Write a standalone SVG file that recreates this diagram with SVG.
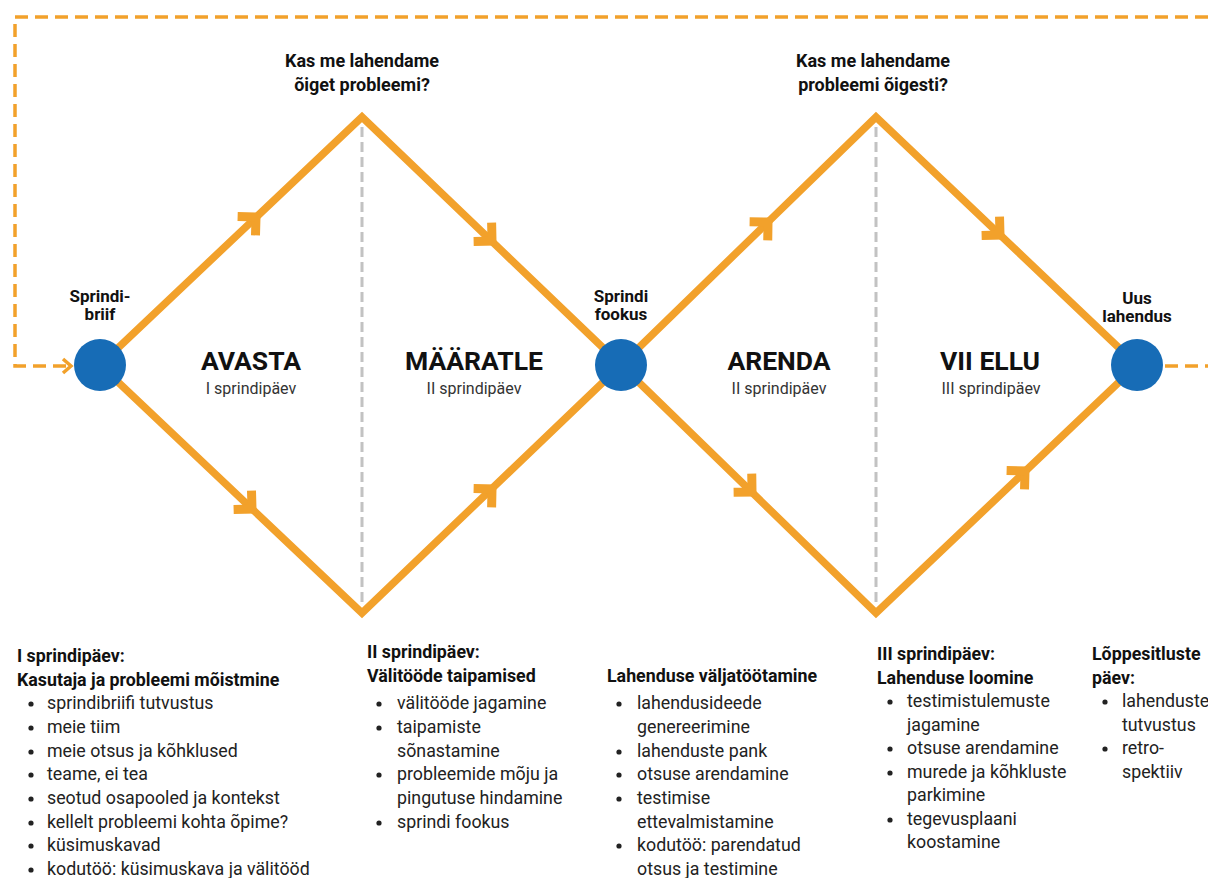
<svg xmlns="http://www.w3.org/2000/svg" xmlns:xlink="http://www.w3.org/1999/xlink" width="1208" height="878" viewBox="0 0 1208 878">
  <style>
    text { font-family: Roboto, "Liberation Sans", Arial, sans-serif; }
    .path { fill: none; stroke: #F2A12B; stroke-width: 7.5; stroke-linejoin: miter; }
    .chev { fill: none; stroke: #F2A12B; stroke-width: 9; stroke-linejoin: miter; stroke-linecap: butt; }
    .loop { fill: none; stroke: #F2A12B; stroke-width: 3.5; stroke-dasharray: 13 7; }
    .divider { fill: none; stroke: #C2C2C2; stroke-width: 3; stroke-dasharray: 10 5; }
    .node { fill: #176CB6; }
    .nlabel { font-size: 17px; font-weight: 700; fill: #111; text-anchor: middle; }
    .question { font-size: 18px; font-weight: 700; fill: #111; text-anchor: middle; }
    .phase { font-size: 26.5px; font-weight: 700; fill: #111; text-anchor: middle; }
    .day { font-size: 16px; fill: #333; text-anchor: middle; }
    .head { font-size: 17.8px; font-weight: 700; fill: #111; }
    .item { font-size: 17.8px; fill: #222; }
    .dot { fill: #222; }
  </style>
  <defs>
    <path id="chev" class="chev" d="M-13,-13 L0,0 L-13,13"/>
  </defs>

  <!-- feedback loop and phase dividers -->
  <g id="connectors">
    <path class="loop" d="M1208,17 H15 V366 H70"/>
    <path d="M63,359 L71,366 L63,373" fill="none" stroke="#F2A12B" stroke-width="3.5"/>
    <path class="loop" d="M1165,366 H1208"/>

    <line class="divider" x1="362" y1="127" x2="362" y2="604"/>
    <line class="divider" x1="876" y1="127" x2="876" y2="604"/>

    <!-- double diamond -->
    <path class="path" d="M100,365 L362,117 L621,365 L876,117 L1137,365"/>
    <path class="path" d="M100,365 L362,613 L621,365 L876,613 L1137,365"/>

    <!-- direction chevrons -->
    <use xlink:href="#chev" transform="translate(256,217) rotate(-43.4)"/>
    <use xlink:href="#chev" transform="translate(492,241) rotate(43.8)"/>
    <use xlink:href="#chev" transform="translate(252,509) rotate(43.4)"/>
    <use xlink:href="#chev" transform="translate(492,489) rotate(-43.8)"/>
    <use xlink:href="#chev" transform="translate(768,222) rotate(-44.2)"/>
    <use xlink:href="#chev" transform="translate(1000,235) rotate(43.5)"/>
    <use xlink:href="#chev" transform="translate(752,492) rotate(44.2)"/>
    <use xlink:href="#chev" transform="translate(1025,471) rotate(-43.5)"/>
  </g>

  <!-- milestones -->
  <g id="node-briif">
    <circle class="node" cx="100" cy="365" r="26"/>
    <text class="nlabel" x="100" y="302">Sprindi-</text>
    <text class="nlabel" x="100" y="320">briif</text>
  </g>
  <g id="node-fookus">
    <circle class="node" cx="621" cy="365" r="26"/>
    <text class="nlabel" x="621" y="302">Sprindi</text>
    <text class="nlabel" x="621" y="320">fookus</text>
  </g>
  <g id="node-lahendus">
    <circle class="node" cx="1137" cy="365" r="26"/>
    <text class="nlabel" x="1137" y="304">Uus</text>
    <text class="nlabel" x="1137" y="322">lahendus</text>
  </g>

  <!-- guiding questions -->
  <g id="question-1">
    <text class="question" x="362" y="67">Kas me lahendame</text>
    <text class="question" x="362" y="91">õiget probleemi?</text>
  </g>
  <g id="question-2">
    <text class="question" x="873" y="67">Kas me lahendame</text>
    <text class="question" x="873" y="91">probleemi õigesti?</text>
  </g>

  <!-- phases -->
  <g id="phase-avasta">
    <text class="phase" x="251" y="370">AVASTA</text>
    <text class="day" x="251" y="394">I sprindipäev</text>
  </g>
  <g id="phase-maaratle">
    <text class="phase" x="474" y="370">MÄÄRATLE</text>
    <text class="day" x="474" y="394">II sprindipäev</text>
  </g>
  <g id="phase-arenda">
    <text class="phase" x="779" y="370">ARENDA</text>
    <text class="day" x="779" y="394">II sprindipäev</text>
  </g>
  <g id="phase-vii-ellu">
    <text class="phase" x="990" y="370">VII ELLU</text>
    <text class="day" x="991" y="394">III sprindipäev</text>
  </g>

  <!-- day agendas -->
  <g id="agenda-day1">
    <text class="head" x="17" y="662">I sprindipäev:</text>
    <text class="head" x="17" y="686">Kasutaja ja probleemi mõistmine</text>
    <circle class="dot" cx="31" cy="704" r="2.6"/><text class="item" x="47" y="709">sprindibriifi tutvustus</text>
    <circle class="dot" cx="31" cy="728" r="2.6"/><text class="item" x="47" y="733">meie tiim</text>
    <circle class="dot" cx="31" cy="752" r="2.6"/><text class="item" x="47" y="757">meie otsus ja kõhklused</text>
    <circle class="dot" cx="31" cy="775" r="2.6"/><text class="item" x="47" y="780">teame, ei tea</text>
    <circle class="dot" cx="31" cy="799" r="2.6"/><text class="item" x="47" y="804">seotud osapooled ja kontekst</text>
    <circle class="dot" cx="31" cy="823" r="2.6"/><text class="item" x="47" y="828">kellelt probleemi kohta õpime?</text>
    <circle class="dot" cx="31" cy="846" r="2.6"/><text class="item" x="47" y="851">küsimuskavad</text>
    <circle class="dot" cx="31" cy="870" r="2.6"/><text class="item" x="47" y="875">kodutöö: küsimuskava ja välitööd</text>
  </g>

  <g id="agenda-day2">
    <text class="head" x="367" y="658">II sprindipäev:</text>
    <text class="head" x="367" y="682">Välitööde taipamised</text>
    <circle class="dot" cx="379" cy="704" r="2.6"/><text class="item" x="397" y="709">välitööde jagamine</text>
    <circle class="dot" cx="379" cy="728" r="2.6"/><text class="item" x="397" y="733">taipamiste</text>
    <text class="item" x="397" y="757">sõnastamine</text>
    <circle class="dot" cx="379" cy="775" r="2.6"/><text class="item" x="397" y="780">probleemide mõju ja</text>
    <text class="item" x="397" y="804">pingutuse hindamine</text>
    <circle class="dot" cx="379" cy="823" r="2.6"/><text class="item" x="397" y="828">sprindi fookus</text>
  </g>

  <g id="agenda-solution">
    <text class="head" x="607" y="682">Lahenduse väljatöötamine</text>
    <circle class="dot" cx="619" cy="704" r="2.6"/><text class="item" x="637" y="709">lahendusideede</text>
    <text class="item" x="637" y="733">genereerimine</text>
    <circle class="dot" cx="619" cy="752" r="2.6"/><text class="item" x="637" y="757">lahenduste pank</text>
    <circle class="dot" cx="619" cy="775" r="2.6"/><text class="item" x="637" y="780">otsuse arendamine</text>
    <circle class="dot" cx="619" cy="799" r="2.6"/><text class="item" x="637" y="804">testimise</text>
    <text class="item" x="637" y="828">ettevalmistamine</text>
    <circle class="dot" cx="619" cy="846" r="2.6"/><text class="item" x="637" y="851">kodutöö: parendatud</text>
    <text class="item" x="637" y="875">otsus ja testimine</text>
  </g>

  <g id="agenda-day3">
    <text class="head" x="877" y="660">III sprindipäev:</text>
    <text class="head" x="877" y="684">Lahenduse loomine</text>
    <circle class="dot" cx="890" cy="702" r="2.6"/><text class="item" x="907" y="707">testimistulemuste</text>
    <text class="item" x="907" y="731">jagamine</text>
    <circle class="dot" cx="890" cy="749" r="2.6"/><text class="item" x="907" y="754">otsuse arendamine</text>
    <circle class="dot" cx="890" cy="773" r="2.6"/><text class="item" x="907" y="778">murede ja kõhkluste</text>
    <text class="item" x="907" y="801">parkimine</text>
    <circle class="dot" cx="890" cy="820" r="2.6"/><text class="item" x="907" y="825">tegevusplaani</text>
    <text class="item" x="907" y="848">koostamine</text>
  </g>

  <g id="agenda-final">
    <text class="head" x="1092" y="660">Lõppesitluste</text>
    <text class="head" x="1092" y="684">päev:</text>
    <circle class="dot" cx="1105" cy="702" r="2.6"/><text class="item" x="1122" y="707">lahenduste</text>
    <text class="item" x="1122" y="731">tutvustus</text>
    <circle class="dot" cx="1105" cy="749" r="2.6"/><text class="item" x="1122" y="754">retro-</text>
    <text class="item" x="1122" y="778">spektiiv</text>
  </g>
</svg>
